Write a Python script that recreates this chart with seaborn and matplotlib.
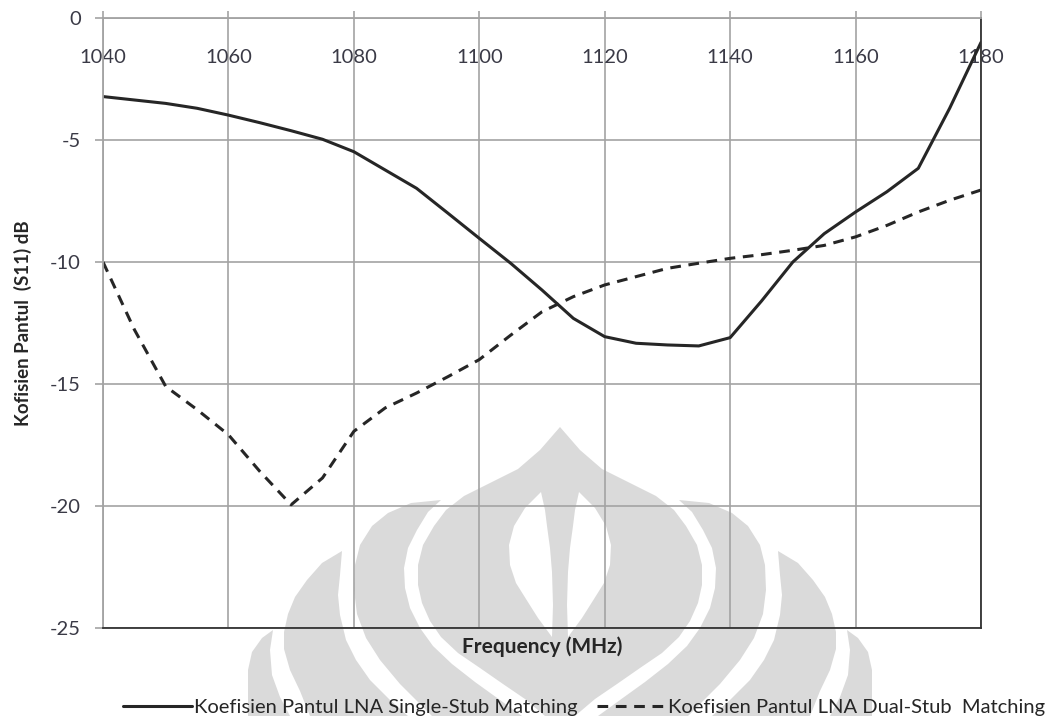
import numpy as np
import pandas as pd
import matplotlib
matplotlib.use("Agg")
import matplotlib.pyplot as plt
import matplotlib.transforms as mtransforms
from matplotlib.patches import Polygon
import seaborn as sns

# values (5 MHz steps)
freq_mhz = [1040, 1045, 1050, 1055, 1060, 1065, 1070, 1075, 1080, 1085,
            1090, 1095, 1100, 1105, 1110, 1115, 1120, 1125, 1130, 1135,
            1140, 1145, 1150, 1155, 1160, 1165, 1170, 1175, 1180]
single_stub_db = [-3.22, -3.36, -3.50, -3.70, -3.98, -4.29, -4.62, -4.97, -5.48, -6.23,
                  -6.98, -8.00, -9.03, -10.05, -11.15, -12.31, -13.06, -13.33, -13.40, -13.44,
                  -13.10, -11.60, -10.00, -8.84, -7.95, -7.12, -6.16, -3.70, -1.00]
dual_stub_db = [-10.00, -12.77, -15.10, -16.05, -17.08, -18.58, -19.95, -18.85, -16.94, -15.98,
                -15.37, -14.70, -14.00, -13.00, -12.04, -11.42, -10.94, -10.60, -10.26, -10.05,
                -9.85, -9.70, -9.52, -9.32, -8.97, -8.50, -7.95, -7.47, -7.05]

x_ticks = [1040, 1060, 1080, 1100, 1120, 1140, 1160, 1180]
y_ticks = [0, -5, -10, -15, -20, -25]

label_single = "Koefisien Pantul LNA Single-Stub Matching"
label_dual = "Koefisien Pantul LNA Dual-Stub  Matching"

W, H = 1056, 716

sns.set_theme(style="white")
plt.rcParams["font.family"] = ["Lato", "DejaVu Sans"]
plt.rcParams["axes.unicode_minus"] = False

fig = plt.figure(figsize=(W / 100, H / 100), dpi=100)
ax = fig.add_axes([103 / W, 1 - 628 / H, 878 / W, 610 / H])
ax.set_facecolor("none")

# ------------------------------------------------------------------ #
# faint logo watermark behind the chart (pixel coords, y down)
# ------------------------------------------------------------------ #
px = mtransforms.Affine2D().scale(1 / W, -1 / H).translate(0, 1) + fig.transFigure
CX = 560
wm_gray = "#dadada"


def mirror(pts):
    return [(2 * CX - x, y) for x, y in pts]


def crescent(tip, outer, inner):
    return [tip] + outer + inner[::-1]


def add_shape(pts, color, z):
    fig.add_artist(Polygon(pts, closed=True, transform=px, facecolor=color,
                           edgecolor="none", zorder=z))


bulb_left = [(560, 427), (540, 450), (518, 469), (490, 483), (464, 496), (446, 510),
             (434, 526), (423, 545), (418, 565), (418, 585), (422, 603), (430, 621),
             (441, 637), (458, 653), (480, 668), (503, 684), (525, 699), (545, 716)]
bulb = bulb_left + mirror(bulb_left)[::-1]

petal2 = crescent((441, 500),
                  [(411, 503), (388, 513), (372, 526), (360, 545), (355, 565),
                   (354, 590), (357, 614), (366, 638), (380, 660), (400, 684),
                   (422, 706), (432, 716)],
                  [(428, 512), (417, 530), (408, 548), (404, 568), (405, 588),
                   (410, 608), (420, 628), (433, 646), (452, 664), (475, 682),
                   (500, 700), (522, 716)])
petal3 = crescent((342, 551),
                  [(322, 563), (307, 580), (295, 597), (288, 614), (284, 632),
                   (284, 649), (290, 670), (300, 691), (310, 716)],
                  [(340, 575), (338, 595), (340, 615), (346, 640), (356, 660),
                   (370, 680), (390, 700), (408, 716)])
petal4 = crescent((273, 630),
                  [(262, 638), (252, 652), (248, 670), (248, 716)],
                  [(270, 650), (272, 675), (280, 697), (290, 716)])
white_petal = crescent((541, 492),
                       [(525, 508), (514, 526), (509, 545), (510, 565), (516, 583),
                        (526, 599), (538, 618), (552, 637)],
                       [(545, 510), (547, 526), (550, 548), (552, 572), (553, 605)])

add_shape(bulb, wm_gray, -3)
for shape in (petal2, petal3, petal4):
    add_shape(shape, wm_gray, -3)
    add_shape(mirror(shape), wm_gray, -3)
add_shape(white_petal, "white", -2)
add_shape(mirror(white_petal), "white", -2)

# ------------------------------------------------------------------ #
# chart
# ------------------------------------------------------------------ #
df = pd.DataFrame({"freq": freq_mhz, "single": single_stub_db, "dual": dual_stub_db})
line_col = "#262626"
sns.lineplot(data=df, x="freq", y="single", ax=ax, color=line_col, lw=2.2,
             label=label_single)
sns.lineplot(data=df, x="freq", y="dual", ax=ax, color=line_col, lw=2.2,
             label=label_dual)
ax.lines[1].set_dashes((3.5, 2.5))
for ln in ax.lines:
    ln.set_solid_joinstyle("round")
    ln.set_dash_joinstyle("round")

ax.set_xlim(1040, 1180)
ax.set_ylim(-25, 0)
ax.set_xticks(x_ticks)
ax.set_yticks(y_ticks)
grid_col = "#a3a3a3"
ax.grid(True, color=grid_col, lw=1.2)
ax.set_axisbelow(True)

ax.spines["left"].set_color(grid_col)
ax.spines["top"].set_color(grid_col)
ax.spines["right"].set_color("#333333")
ax.spines["bottom"].set_color("#333333")
for s in ax.spines.values():
    s.set_linewidth(1.3)

tick_txt = "#3a3a46"
ax.tick_params(axis="x", top=True, labeltop=True, bottom=False, labelbottom=False,
               direction="out", length=5, width=1.2, color=grid_col,
               pad=-39.5, labelsize=14.5, labelcolor=tick_txt)
ax.tick_params(axis="y", left=True, direction="out", length=6, width=1.2,
               color=grid_col, pad=10, labelsize=14.5, labelcolor=tick_txt)

ax.set_xlabel("Frequency (MHz)", fontsize=15, fontweight="bold", color="#262626",
              labelpad=6)
ax.set_ylabel("Kofisien Pantul  (S11) dB", fontsize=13.5, fontweight="bold",
              color="#262626", labelpad=13)

ax.get_legend().remove()
handles, labels = ax.get_legend_handles_labels()
fig.legend(handles, labels, loc="lower center", bbox_to_anchor=(584 / W, -0.025),
           ncol=2, frameon=False, fontsize=14.5, handlelength=3.4, handletextpad=0.1,
           columnspacing=1.0, labelcolor="#262626")

fig.savefig("out.png", dpi=100)
